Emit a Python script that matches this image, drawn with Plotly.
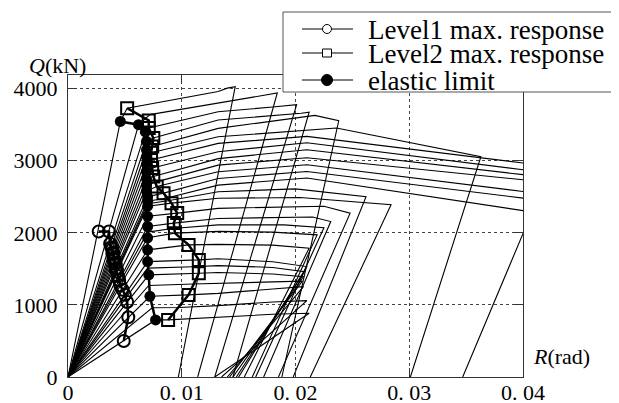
import plotly.graph_objects as go

# ---------------- data ----------------
# story curves, top (largest Q) to bottom
yield_R = [0.0046, 0.0062, 0.0068, 0.0069, 0.0069, 0.0069, 0.0069, 0.0069, 0.0069, 0.0069, 0.0069,
           0.0070, 0.0070, 0.0070, 0.0070, 0.0070, 0.0070, 0.0070, 0.0070, 0.0070, 0.0070, 0.0070,
           0.0071, 0.0071, 0.0072, 0.0074, 0.0077]
yield_Q = [3546, 3500, 3400, 3270, 3150, 3050, 2950, 2850, 2750, 2660, 2580,
           2500, 2440, 2405, 2370, 2230, 2088, 2010, 1931, 1764, 1601, 1510,
           1417, 1270, 1120, 960, 792]
knee_R = [0.0052, 0.0072, 0.0071, 0.0075, 0.0074, 0.0073, 0.0073, 0.0074, 0.0075, 0.0076, 0.0078,
          0.0084, 0.0086, 0.0088, 0.0091, 0.0096, 0.0093, 0.0092, 0.0094, 0.0106, 0.0115, 0.0110,
          0.0115, 0.0110, 0.0106, 0.0098, 0.0088]
knee_Q = [3730, 3640, 3454, 3315, 3199, 3110, 3010, 2900, 2782, 2700, 2643,
          2551, 2480, 2445, 2412, 2274, 2135, 2060, 1996, 1833, 1625, 1530,
          1440, 1290, 1139, 965, 792]
mid_R = [0.0132] * 27
mid_Q = [3960, 3796, 3681, 3565, 3449, 3333, 3241, 3125, 3030, 2940, 2847,
         2754, 2662, 2570, 2480, 2340, 2200, 2110, 2020, 1840, 1640, 1545,
         1450, 1300, 1160, 990, 830]
peak_R = [0.0140, 0.0160, 0.0180, 0.0205, 0.0217, 0.0236, 0.0210, 0.0210, 0.0210, 0.0210, 0.0210,
          0.0210, 0.0210, 0.0200, 0.0204, 0.0225, 0.0215, 0.0190, 0.0180, 0.0180, 0.0180, 0.0180,
          0.0180, 0.0180, 0.0180, 0.0180, 0.0180]
peak_Q = [4008, 3870, 3745, 3660, 3630, 3454, 3338, 3250, 3153, 3042, 2944,
          2851, 2760, 2610, 2490, 2370, 2220, 2110, 2010, 1830, 1600, 1520,
          1430, 1320, 1220, 1040, 870]
end_R = [0.0147, 0.0184, 0.0201, 0.0212, 0.0238, 0.0363, 0.0415, 0.0415, 0.0415, 0.0415, 0.0415,
         0.0415, 0.0408, 0.0262, 0.0284, 0.0248, 0.0231, 0.0225, 0.0219, 0.0212, 0.0210, 0.0208,
         0.0207, 0.0206, 0.0207, 0.0210, 0.0212]
end_Q = [4028, 3940, 3778, 3675, 3555, 3056, 2940, 2845, 2780, 2712, 2545,
         2453, 2290, 2500, 2389, 2273, 2157, 2070, 1972, 1787, 1532, 1460,
         1390, 1330, 1254, 1060, 884]
residual_R = [0.0097, 0.0114, 0.0129, 0.0145, 0.0188, 0.0301, 0.0415, 0.0415, 0.0415, 0.0415, 0.0415,
              0.0415, 0.0347, 0.0198, 0.0213, 0.0185, 0.0172, 0.0165, 0.0162, 0.0155, 0.0150, 0.0148,
              0.0145, 0.0142, 0.0140, 0.0135, 0.0129]

# marker series
level1_R = [0.0027, 0.0036, 0.0037, 0.0038, 0.0039, 0.0039, 0.0040, 0.0040, 0.0041, 0.0041, 0.0042,
            0.0042, 0.0043, 0.0043, 0.0044, 0.0045, 0.0046, 0.0048, 0.0050, 0.0052, 0.0053, 0.0049]
level1_Q = [2018, 2018, 1850, 1800, 1780, 1720, 1710, 1650, 1630, 1580, 1570,
            1500, 1500, 1460, 1400, 1340, 1270, 1210, 1140, 1040, 830, 500]
level2_R = [0.0052, 0.0071, 0.0071, 0.0075, 0.0074, 0.0073, 0.0073, 0.0074, 0.0075, 0.0078,
            0.0084, 0.0091, 0.0096, 0.0093, 0.0094, 0.0106, 0.0115, 0.0115, 0.0106, 0.0088]
level2_Q = [3730, 3560, 3454, 3315, 3199, 3110, 3010, 2900, 2782, 2643,
            2551, 2412, 2274, 2135, 1996, 1833, 1625, 1440, 1139, 792]
elastic_R = [0.0046, 0.0062, 0.0068, 0.0069, 0.0069, 0.0069, 0.0069, 0.0069, 0.0069, 0.0069, 0.0069,
             0.0070, 0.0070, 0.0070, 0.0070, 0.0070, 0.0070, 0.0070, 0.0070, 0.0071, 0.0072, 0.0077]
elastic_Q = [3546, 3500, 3400, 3270, 3150, 3050, 2950, 2850, 2750, 2660, 2580,
             2500, 2440, 2370, 2230, 2088, 1931, 1764, 1601, 1417, 1120, 792]

x_ticks = [0, 0.01, 0.02, 0.03, 0.04]
x_tick_text = ["0", "0. 01", "0. 02", "0. 03", "0. 04"]
y_ticks = [0, 1000, 2000, 3000, 4000]
y_tick_text = ["0", "1000", "2000", "3000", "4000"]

series_names = ["Level1 max. response", "Level2 max. response", "elastic limit"]

# ---------------- figure ----------------
# the page body adds an 8 px margin; design in screen pixels and compensate
OFF = 8
W, H = 619, 403
SCR_L, SCR_R, SCR_T, SCR_B = 68, 523, 75, 377   # plot area on screen
ML, MT = SCR_L - OFF, SCR_T - OFF
MR, MB = W - (SCR_R - OFF), H - (SCR_B - OFF)
PW, PH = SCR_R - SCR_L, SCR_B - SCR_T
SERIF = "Liberation Serif"


def px(xs):
    return (xs - SCR_L) / PW


def py(ys):
    return (SCR_B - ys) / PH


fig = go.Figure()

for i in range(len(yield_R)):
    xs = [0, yield_R[i], knee_R[i], mid_R[i], peak_R[i], end_R[i], residual_R[i]]
    ys = [0, yield_Q[i], knee_Q[i], mid_Q[i], peak_Q[i], end_Q[i], 0]
    fig.add_trace(go.Scatter(x=xs, y=ys, mode="lines", showlegend=False,
                             line=dict(color="black", width=1.1), hoverinfo="skip"))

fig.add_trace(go.Scatter(x=elastic_R, y=elastic_Q, mode="lines+markers", name=series_names[2],
                         showlegend=False,
                         line=dict(color="black", width=2.5),
                         marker=dict(symbol="circle", size=11, color="black")))
fig.add_trace(go.Scatter(x=level1_R, y=level1_Q, mode="lines+markers", name=series_names[0],
                         showlegend=False,
                         line=dict(color="black", width=2.5),
                         marker=dict(symbol="circle-open", size=12, color="black",
                                     line=dict(width=2, color="black"))))
fig.add_trace(go.Scatter(x=level2_R, y=level2_Q, mode="lines+markers", name=series_names[1],
                         showlegend=False,
                         line=dict(color="black", width=2.5),
                         marker=dict(symbol="square-open", size=12, color="black",
                                     line=dict(width=2, color="black"))))

axis_common = dict(showline=True, linecolor="#333", linewidth=1.2, mirror="allticks",
                   ticks="inside", ticklen=9, tickwidth=1.2, tickcolor="#333",
                   showgrid=True, gridcolor="#444", gridwidth=1, griddash="dot",
                   zeroline=False, tickfont=dict(family=SERIF, size=22, color="black"))

fig.update_xaxes(range=[0, 0.04], tickmode="array", tickvals=x_ticks, ticktext=x_tick_text,
                 ticklabelstandoff=-5, **axis_common)
fig.update_yaxes(range=[0, 4190], tickmode="array", tickvals=y_ticks, ticktext=y_tick_text,
                 ticklabelstandoff=5, **axis_common)

shapes = []
annotations = []

# legend box (manual, overlapping the plot top-right like the original)
shapes.append(dict(type="rect", xref="paper", yref="paper", layer="above",
                   x0=px(283), x1=px(640), y0=py(92), y1=py(12),
                   fillcolor="white", line=dict(color="#555", width=1)))
rows = [29, 53, 80]
symbols = ["circle-open", "square-open", "circle"]
for name, row, sym in zip(series_names, rows, symbols):
    shapes.append(dict(type="line", xref="paper", yref="paper", layer="above",
                       x0=px(302), x1=px(353), y0=py(row), y1=py(row),
                       line=dict(color="black", width=1)))
    if sym == "circle-open":
        shapes.append(dict(type="circle", xref="paper", yref="paper", layer="above",
                           xsizemode="pixel", ysizemode="pixel",
                           xanchor=px(327), yanchor=py(row), x0=-4.5, x1=4.5, y0=-4.5, y1=4.5,
                           fillcolor="white", line=dict(color="black", width=1)))
    elif sym == "square-open":
        shapes.append(dict(type="rect", xref="paper", yref="paper", layer="above",
                           xsizemode="pixel", ysizemode="pixel",
                           xanchor=px(327), yanchor=py(row), x0=-4.5, x1=4.5, y0=-4, y1=4,
                           fillcolor="white", line=dict(color="black", width=1)))
    else:
        shapes.append(dict(type="circle", xref="paper", yref="paper", layer="above",
                           xsizemode="pixel", ysizemode="pixel",
                           xanchor=px(327), yanchor=py(row), x0=-5.5, x1=5.5, y0=-5.5, y1=5.5,
                           fillcolor="black", line=dict(color="black", width=1)))
    annotations.append(dict(text=name, xref="paper", yref="paper", x=px(366), y=py(row + 1),
                            xanchor="left", yanchor="middle", showarrow=False,
                            font=dict(family=SERIF, size=27, color="black")))

annotations.append(dict(text="<i>Q</i>(kN)", xref="paper", yref="paper", x=px(27), y=py(66),
                        xanchor="left", yanchor="middle", showarrow=False,
                        font=dict(family=SERIF, size=22, color="black")))
annotations.append(dict(text="<i>R</i>(rad)", xref="paper", yref="paper", x=px(531), y=py(356),
                        xanchor="left", yanchor="middle", showarrow=False,
                        font=dict(family=SERIF, size=22, color="black")))

fig.update_layout(width=W, height=H, margin=dict(l=ML, r=MR, t=MT, b=MB, autoexpand=False),
                  paper_bgcolor="white", plot_bgcolor="white", showlegend=False,
                  shapes=shapes, annotations=annotations)

fig.write_html("out.html")
